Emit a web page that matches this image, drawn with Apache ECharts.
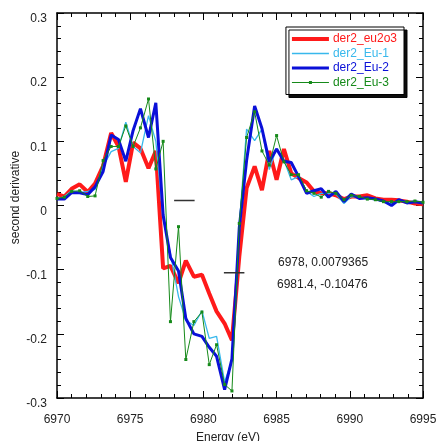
<!DOCTYPE html>
<html>
<head>
<meta charset="utf-8">
<script src="https://cdn.jsdelivr.net/npm/echarts@6/dist/echarts.min.js"></script>
<style>html,body{margin:0;padding:0;background:#fff}#c{width:436px;height:441px}</style>
</head>
<body>
<div id="c"></div>
<script>
const energy = [6970.0, 6970.5, 6971.0, 6971.55, 6972.1, 6972.6, 6973.15, 6973.7, 6974.2, 6974.7, 6975.2, 6975.7, 6976.25, 6976.75, 6977.25, 6977.75, 6978.3, 6978.8, 6979.35, 6979.9, 6980.4, 6980.9, 6981.45, 6981.95, 6982.45, 6982.95, 6983.5, 6984.0, 6984.5, 6985.0, 6985.5, 6986.0, 6986.5, 6987.05, 6987.55, 6988.05, 6988.55, 6989.05, 6989.6, 6990.1, 6990.65, 6991.2, 6991.75, 6992.3, 6992.85, 6993.35, 6993.9, 6994.45, 6995.0];
const der2_eu2o3 = [0.018, 0.014, 0.026, 0.033, 0.021, 0.034, 0.062, 0.113, 0.092, 0.037, 0.098, 0.089, 0.058, 0.085, -0.098, -0.094, -0.121, -0.086, -0.111, -0.108, -0.137, -0.165, -0.184, -0.210, -0.08, 0.027, 0.061, 0.024, 0.085, 0.040, 0.088, 0.050, 0.043, 0.036, 0.022, 0.019, 0.019, 0.016, 0.010, 0.014, 0.014, 0.016, 0.011, 0.009, 0.009, 0.008, 0.006, 0.003, 0.002];
const der2_Eu1 = [0.010, 0.014, 0.023, 0.020, 0.022, 0.025, 0.061, 0.084, 0.089, 0.130, 0.092, 0.082, 0.140, 0.100, -0.02, -0.075, -0.142, -0.179, -0.187, -0.164, -0.207, -0.204, -0.275, -0.241, -0.03, 0.119, 0.101, 0.119, 0.056, 0.089, 0.071, 0.040, 0.045, 0.022, 0.014, 0.019, 0.019, 0.018, 0.003, 0.014, 0.013, 0.010, 0.009, 0.006, 0.003, 0.007, 0.006, 0.005, 0.004];
const der2_Eu2 = [0.010, 0.010, 0.020, 0.020, 0.017, 0.029, 0.053, 0.110, 0.103, 0.069, 0.117, 0.151, 0.106, 0.160, -0.015, -0.081, -0.102, -0.176, -0.200, -0.204, -0.221, -0.235, -0.287, -0.239, -0.035, 0.07, 0.155, 0.120, 0.068, 0.088, 0.069, 0.067, 0.045, 0.019, 0.023, 0.026, 0.013, 0.022, 0.006, 0.018, 0.011, 0.012, 0.010, 0.007, 0.000, 0.009, 0.004, 0.006, 0.004];
const der2_Eu3 = [0.011, 0.013, 0.022, 0.023, 0.014, 0.015, 0.070, 0.092, 0.092, 0.124, 0.092, 0.121, 0.166, 0.057, 0.100, -0.181, -0.033, -0.240, -0.181, -0.166, -0.248, -0.217, -0.279, -0.289, -0.028, 0.106, 0.146, 0.085, 0.063, 0.109, 0.068, 0.048, 0.048, 0.023, 0.019, 0.013, 0.022, 0.019, 0.009, 0.016, 0.014, 0.010, 0.009, 0.006, 0.006, 0.006, 0.006, 0.007, 0.005];
const seriesNames = ['der2_eu2o3', 'der2_Eu-1', 'der2_Eu-2', 'der2_Eu-3'];
const cursor1 = [6978, 0.0079365];
const cursor2 = [6981.4, -0.10476];
const cursorLen = 1.4;
const xTicks = [6970, 6995, 5];
const yTicks = [-0.3, 0.3, 0.1];

const colors = ['#ff1a1a', '#38b8ec', '#0a10d8', '#168a1a'];
const widths = [4, 1.3, 3, 1];
const vals = [der2_eu2o3, der2_Eu1, der2_Eu2, der2_Eu3];
const pair = (ys) => energy.map((x, i) => [x, ys[i]]);
const font = 'Liberation Sans, Arial, sans-serif';

const legendIcons = [
  'path://M0,0H37V4H0Z',
  'path://M0,0H37V1.3H0Z',
  'path://M0,0H37V3H0Z',
  'path://M0,1H37V2H0Z M17,0H20V3H17Z'
];

const series = seriesNames.map((n, k) => ({
  name: n, type: 'line', data: pair(vals[k]),
  symbol: k === 3 ? 'rect' : 'none', symbolSize: 3, showSymbol: k === 3,
  lineStyle: { color: colors[k], width: widths[k] },
  itemStyle: { color: colors[k] },
  z: 2 + k, silent: true
}));
[cursor1, cursor2].forEach((c, i) => {
  series.push({
    name: 'cursor' + (i + 1), type: 'line', symbol: 'none', silent: true,
    data: [[c[0], c[1]], [c[0] + cursorLen, c[1]]],
    lineStyle: { color: '#333', width: 1.5 }, z: 10
  });
});

const axisCommon = {
  axisLine: { show: true, onZero: false, lineStyle: { color: '#000', width: 1.5 } },
  axisTick: { show: true, inside: true, length: 7, lineStyle: { color: '#000', width: 1 } },
  minorTick: { show: true, splitNumber: 5, length: 4, lineStyle: { color: '#000', width: 1 } },
  splitLine: { show: false }
};

const chart = echarts.init(document.getElementById('c'), null, { renderer: 'canvas' });
chart.setOption({
  animation: false,
  backgroundColor: '#fff',
  grid: { left: 57, right: 13, top: 13, bottom: 43, containLabel: false, outerBoundsMode: 'none' },
  xAxis: [
    Object.assign({ type: 'value', min: xTicks[0], max: xTicks[1], interval: xTicks[2], position: 'bottom',
      axisLabel: { margin: 16, fontSize: 12, color: '#222', fontFamily: font, formatter: (v) => String(v) },
      name: 'Energy (eV)', nameLocation: 'middle', nameGap: 34, nameMoveOverlap: false,
      nameTextStyle: { fontSize: 12, color: '#222', fontFamily: font, padding: [0, 24, 0, 0] } }, axisCommon),
    Object.assign({ type: 'value', min: xTicks[0], max: xTicks[1], interval: xTicks[2], position: 'top',
      axisLabel: { show: false } }, axisCommon)
  ],
  yAxis: [
    Object.assign({ type: 'value', min: yTicks[0], max: yTicks[1], interval: yTicks[2], position: 'left',
      axisLabel: { margin: 10, fontSize: 12, color: '#222', fontFamily: font, verticalAlign: 'top' },
      name: 'second derivative', nameLocation: 'middle', nameGap: 35, nameMoveOverlap: false,
      nameTextStyle: { fontSize: 12, color: '#222', fontFamily: font, padding: [0, 0, 0, 16] } }, axisCommon),
    Object.assign({ type: 'value', min: yTicks[0], max: yTicks[1], interval: yTicks[2], position: 'right',
      axisLabel: { show: false } }, axisCommon)
  ],
  legend: {
    orient: 'vertical', right: 32, top: 27,
    itemWidth: 37, itemHeight: 10, itemGap: 2.5,
    padding: [6, 7, 6, 6],
    borderColor: '#000', borderWidth: 1, backgroundColor: '#fff',
    shadowColor: 'rgba(0,0,0,0.95)', shadowBlur: 0, shadowOffsetX: 3, shadowOffsetY: 3,
    selectedMode: false,
    textStyle: { fontSize: 12, fontFamily: font, padding: [0, 0, 0, -1] },
    data: seriesNames.map((n, k) => ({ name: n, icon: legendIcons[k], textStyle: { color: colors[k] } }))
  },
  graphic: [
    { type: 'text', left: 278, top: 257, style: { text: cursor1[0] + ', ' + cursor1[1], font: '12px ' + font, fill: '#222' } },
    { type: 'text', left: 277, top: 279, style: { text: cursor2[0] + ', ' + cursor2[1], font: '12px ' + font, fill: '#222' } }
  ],
  series: series
});
</script>
</body>
</html>
